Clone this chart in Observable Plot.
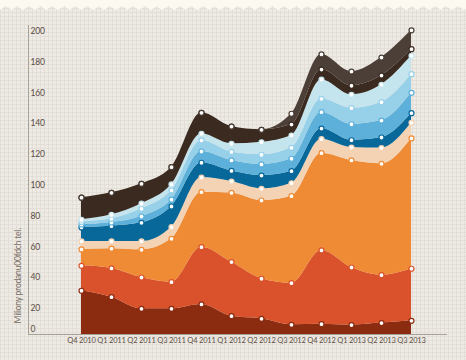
<!DOCTYPE html>
<html>
<head>
<meta charset="utf-8">
<script src="https://cdn.jsdelivr.net/npm/d3@7"></script>
<script src="https://cdn.jsdelivr.net/npm/@observablehq/plot@0.6"></script>
<style>
html, body { margin: 0; padding: 0; }
body {
  width: 466px; height: 360px; overflow: hidden; position: relative;
  background-color: #eeebe4;
  background-image:
    linear-gradient(#e3dfd8 1px, transparent 1px),
    linear-gradient(90deg, #e3dfd8 1px, transparent 1px);
  background-size: 4px 4px;
}
#zig {
  position: absolute; left: 0; top: 0; width: 466px; height: 12px;
  background-image: url("data:image/svg+xml;utf8,<svg xmlns='http://www.w3.org/2000/svg' width='11.6' height='12'><polygon points='0,0 11.6,0 11.6,10 5.8,6 0,10' fill='%23fcf9f1'/></svg>");
  background-size: 11.6px 12px;
}
#chart { position: absolute; left: 0; top: 0; }
#chart svg text { letter-spacing: -0.2px; }
</style>
</head>
<body>
<div id="zig"></div>
<div id="chart"></div>
<script>
const quarters = ["Q4 2010","Q1 2011","Q2 2011","Q3 2011","Q4 2011","Q1 2012","Q2 2012","Q3 2012","Q4 2012","Q1 2013","Q2 2013","Q3 2013"];
const layerNames = ["s1","s2","s3","s4","s5","s6","s7","s8","s9","s10"];
const layerColors = ["#8b2b10","#d9522b","#f08b35","#f4d3b5","#08689a","#5cb0da","#97d0e9","#c5e5ee","#3a2a1f","#4b3f37"];
const s1  = [31.5, 27.3, 19.8, 19.8, 22.6, 15.0, 13.3, 9.4, 9.8, 9.2, 10.5, 12.0];
const s2  = [16.2, 18.7, 20.3, 17.3, 37.2, 35.1, 26.0, 27.0, 47.9, 37.4, 31.1, 33.8];
const s3  = [10.6, 12.8, 18.0, 28.1, 35.7, 44.9, 50.8, 56.5, 63.1, 69.5, 72.3, 84.6];
const s4  = [5.2, 4.7, 5.4, 7.6, 9.5, 7.4, 7.6, 8.4, 9.1, 8.4, 10.2, 10.1];
const s5  = [9.1, 9.9, 12.1, 13.4, 9.6, 6.9, 8.6, 7.8, 6.9, 4.7, 6.9, 6.3];
const s6  = [1.9, 2.4, 4.1, 4.4, 7.3, 6.8, 7.2, 8.1, 10.6, 10.4, 11.0, 13.2];
const s7  = [1.7, 2.4, 5.0, 6.0, 7.2, 5.5, 6.3, 7.1, 8.7, 10.4, 11.9, 12.1];
const s8  = [1.4, 2.6, 3.3, 3.9, 4.3, 5.3, 8.1, 8.0, 12.4, 8.7, 11.3, 11.9];
const s9  = [14.3, 14.3, 12.9, 11.2, 13.6, 11.2, 8.1, 7.1, 6.6, 5.9, 6.0, 4.3];
const s10 = [0, 0, 0, 0, 0, 0, 0, 7.0, 9.8, 9.2, 11.7, 12.3];
const yTicks = [20, 40, 60, 80, 100, 120, 140, 160, 180, 200];
const yLabel = "Miliony prodanu00fdch tel.";

const series = [s1, s2, s3, s4, s5, s6, s7, s8, s9, s10];
const data = [];
series.forEach((vals, i) => vals.forEach((v, j) => data.push({quarter: quarters[j], layer: layerNames[i], value: v})));

const chart = Plot.plot({
  width: 466, height: 360,
  marginTop: 25, marginBottom: 26, marginLeft: 28, marginRight: 20,
  style: {background: "transparent", fontFamily: "Lato, sans-serif", fontSize: "8.5px", color: "#5a4c44"},
  x: {type: "point", domain: quarters, range: [61, 431], label: null},
  y: {domain: [3.1, 200], range: [334, 30.7], label: null},
  color: {domain: layerNames, range: layerColors},
  marks: [
    Plot.areaY(data, {x: "quarter", y: "value", z: "layer", fill: "layer", curve: "monotone-x", clip: true, order: null}),
    Plot.dot(data, Plot.stackY2({x: "quarter", y: "value", z: "layer", stroke: "layer", fill: "white", r: 2.5, strokeWidth: 1.2, order: null})),
    Plot.frame({anchor: "left", stroke: "#a6a199"}),
    Plot.frame({anchor: "bottom", stroke: "#a6a199"}),
    Plot.axisX({tickSize: 0, tickPadding: 3, fontSize: 7.5, label: null}),
    Plot.axisY(yTicks, {tickSize: 0, tickPadding: 0, textAnchor: "start", dx: 2, fontSize: 8.5, label: null}),
    Plot.axisY([0], {tickSize: 0, tickPadding: 0, textAnchor: "start", dx: 2, dy: -10, fontSize: 8.5, label: null}),
    Plot.text([yLabel], {frameAnchor: "bottom-left", rotate: -90, textAnchor: "start", dx: -8, dy: -11, fontSize: 8.5, fill: "#7a6e66"})
  ]
});
document.getElementById("chart").appendChild(chart);
</script>
</body>
</html>
